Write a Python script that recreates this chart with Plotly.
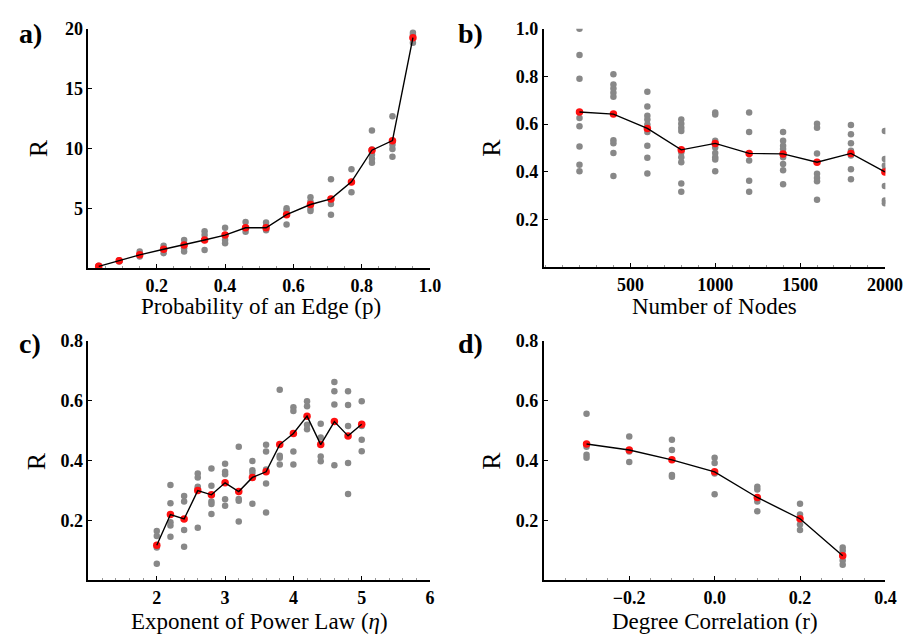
import plotly.graph_objects as go

# ---------------- data ----------------
# a) Erdos-Renyi: probability of an edge
p_vals = [0.03, 0.09, 0.15, 0.22, 0.28, 0.34, 0.40, 0.46, 0.52, 0.58, 0.65, 0.71, 0.77, 0.83, 0.89, 0.95]
a_mean = [0.14, 0.60, 1.10, 1.57, 1.93, 2.34, 2.75, 3.36, 3.36, 4.46, 5.31, 5.78, 7.20, 9.85, 10.65, 19.26]
a_runs = [
    [0.10, 0.14, 0.18],
    [0.55, 0.60, 0.65],
    [1.37, 1.10, 0.96],
    [1.87, 1.57, 1.24],
    [2.34, 1.93, 1.65, 1.37],
    [3.08, 2.75, 2.34, 1.51],
    [3.36, 2.75, 2.34, 2.06],
    [3.85, 3.36, 3.03],
    [3.80, 3.52, 3.16],
    [5.00, 4.81, 4.46, 3.63],
    [5.91, 5.56, 4.95, 4.76],
    [7.43, 5.78, 5.36, 4.46],
    [8.25, 7.20, 6.33],
    [11.50, 9.90, 9.50, 9.13, 8.80],
    [12.70, 10.60, 10.30, 9.96, 9.30],
    [19.67, 19.48, 19.26, 18.84],
]

# b) number of nodes
n_vals = [200, 400, 600, 800, 1000, 1200, 1400, 1600, 1800, 2000]
b_mean = [0.651, 0.642, 0.582, 0.492, 0.519, 0.477, 0.475, 0.440, 0.477, 0.399]
b_runs = [
    [1.000, 0.890, 0.790, 0.626, 0.591, 0.506, 0.429, 0.402],
    [0.809, 0.766, 0.750, 0.732, 0.715, 0.532, 0.520, 0.479, 0.382],
    [0.736, 0.674, 0.635, 0.619, 0.598, 0.567, 0.509, 0.459, 0.393],
    [0.619, 0.602, 0.585, 0.571, 0.481, 0.461, 0.440, 0.351, 0.316],
    [0.649, 0.640, 0.530, 0.502, 0.479, 0.461, 0.451, 0.402],
    [0.649, 0.567, 0.477, 0.447, 0.362, 0.316],
    [0.567, 0.530, 0.509, 0.495, 0.475, 0.461, 0.433, 0.406, 0.348],
    [0.601, 0.585, 0.477, 0.392, 0.374, 0.360, 0.282],
    [0.596, 0.557, 0.520, 0.488, 0.468, 0.410, 0.369],
    [0.571, 0.454, 0.426, 0.406, 0.340, 0.279, 0.268],
]

# c) exponent of power law
eta_vals = [2.0, 2.2, 2.4, 2.6, 2.8, 3.0, 3.2, 3.4, 3.6, 3.8, 4.0, 4.2, 4.4, 4.6, 4.8, 5.0]
c_mean = [0.116, 0.219, 0.204, 0.299, 0.285, 0.325, 0.296, 0.343, 0.362, 0.453, 0.490, 0.548, 0.453, 0.530, 0.482, 0.521]
c_runs = [
    [0.164, 0.147, 0.109, 0.054],
    [0.318, 0.257, 0.193, 0.182, 0.145],
    [0.281, 0.263, 0.167, 0.111],
    [0.356, 0.343, 0.312, 0.307, 0.175],
    [0.373, 0.315, 0.263, 0.254, 0.221],
    [0.389, 0.362, 0.354, 0.270, 0.248],
    [0.446, 0.271, 0.265, 0.196],
    [0.398, 0.367, 0.358, 0.255],
    [0.452, 0.430, 0.370, 0.323, 0.226],
    [0.636, 0.416, 0.409, 0.386],
    [0.578, 0.565, 0.430, 0.386],
    [0.598, 0.581, 0.519, 0.504],
    [0.523, 0.477, 0.413, 0.397],
    [0.662, 0.631, 0.587, 0.384],
    [0.631, 0.585, 0.515, 0.391, 0.288],
    [0.598, 0.515, 0.469, 0.431],
]

# d) degree correlation
r_vals = [-0.3, -0.2, -0.1, 0.0, 0.1, 0.2, 0.3]
d_mean = [0.455, 0.435, 0.402, 0.362, 0.276, 0.205, 0.081]
d_runs = [
    [0.556, 0.446, 0.419, 0.409],
    [0.480, 0.430, 0.395],
    [0.469, 0.435, 0.351, 0.345],
    [0.409, 0.391, 0.356, 0.287],
    [0.312, 0.303, 0.263, 0.230],
    [0.255, 0.219, 0.186, 0.167],
    [0.109, 0.098, 0.081, 0.065, 0.051],
]

x_titles = ["Probability of an Edge (p)", "Number of Nodes",
            "Exponent of Power Law (<i>η</i>)", "Degree Correlation (r)"]
panel_labels = ["a)", "b)", "c)", "d)"]

# ---------------- figure ----------------
W, H = 915, 635
SERIF = "Liberation Serif"
GREY = "#888888"
RED = "#ff1010"

fig = go.Figure()

panels = [
    (p_vals, a_mean, a_runs, "x", "y"),
    (n_vals, b_mean, b_runs, "x2", "y2"),
    (eta_vals, c_mean, c_runs, "x3", "y3"),
    (r_vals, d_mean, d_runs, "x4", "y4"),
]

for xs, means, runs, xa, ya in panels:
    gx, gy = [], []
    for xv, rr in zip(xs, runs):
        for v in rr:
            gx.append(xv)
            gy.append(v)
    fig.add_trace(go.Scatter(x=gx, y=gy, mode="markers", xaxis=xa, yaxis=ya,
                             marker=dict(color=GREY, size=6.5), showlegend=False,
                             hoverinfo="skip"))
    fig.add_trace(go.Scatter(x=xs, y=means, mode="markers", xaxis=xa, yaxis=ya,
                             marker=dict(color=RED, size=7.5), showlegend=False))
    fig.add_trace(go.Scatter(x=xs, y=means, mode="lines", xaxis=xa, yaxis=ya,
                             line=dict(color="black", width=1.4), showlegend=False))

# pixel geometry helpers
def xd(a, b):
    return [a / W, b / W]

def yd(top, bottom):
    return [(H - bottom) / H, (H - top) / H]

tickfont = dict(family=SERIF, size=18, color="black", weight="bold")

def axis_common():
    return dict(showline=True, linecolor="black", linewidth=2, showgrid=False,
                zeroline=False, ticks="inside", ticklen=4, tickwidth=1,
                tickcolor="black", tickfont=tickfont, mirror=False)

def tfmt(vals, fmt):
    return [fmt.format(v) for v in vals]

MINOR = dict(ticks="inside", ticklen=2, tickcolor="#999999", tickwidth=1)

ax_defs = {
    "xaxis": dict(domain=xd(82, 430), range=[0, 1.0], anchor="y",
                  tickvals=[0.2, 0.4, 0.6, 0.8, 1.0],
                  ticktext=tfmt([0.2, 0.4, 0.6, 0.8, 1.0], "{:.1f}"),
                  minor=dict(MINOR, dtick=0.05, tick0=0)),
    "yaxis": dict(domain=yd(11, 254), range=[0, 20], anchor="x",
                  tickvals=[5, 10, 15, 20], ticktext=["5", "10", "15", "20"]),
    "xaxis2": dict(domain=xd(546, 894), range=[-10, 2003], anchor="y2",
                   tickvals=[500, 1000, 1500, 2000], ticktext=["500", "1000", "1500", "2000"],
                   minor=dict(MINOR, dtick=100, tick0=0)),
    "yaxis2": dict(domain=yd(11, 253), range=[0, 1.0], anchor="x2",
                   tickvals=[0.2, 0.4, 0.6, 0.8, 1.0],
                   ticktext=tfmt([0.2, 0.4, 0.6, 0.8, 1.0], "{:.1f}")),
    "xaxis3": dict(domain=xd(82, 430), range=[1, 6], anchor="y3",
                   tickvals=[2, 3, 4, 5, 6], ticktext=["2", "3", "4", "5", "6"],
                   minor=dict(MINOR, dtick=0.2, tick0=0)),
    "yaxis3": dict(domain=yd(328, 571), range=[0, 0.8], anchor="x3",
                   tickvals=[0.2, 0.4, 0.6, 0.8],
                   ticktext=tfmt([0.2, 0.4, 0.6, 0.8], "{:.1f}")),
    "xaxis4": dict(domain=xd(546, 894), range=[-0.4, 0.4], anchor="y4",
                   tickvals=[-0.2, 0.0, 0.2, 0.4],
                   ticktext=["\u22120.2", "0.0", "0.2", "0.4"],
                   minor=dict(MINOR, dtick=0.05, tick0=0)),
    "yaxis4": dict(domain=yd(328, 571), range=[0, 0.8], anchor="x4",
                   tickvals=[0.2, 0.4, 0.6, 0.8],
                   ticktext=tfmt([0.2, 0.4, 0.6, 0.8], "{:.1f}")),
}

layout_axes = {}
for k, v in ax_defs.items():
    d = axis_common()
    d.update(v)
    layout_axes[k] = d

annotations = []
# panel labels
label_pos = [(9, 16), (456, 16), (9, 331), (456, 331)]
for txt, (px, py) in zip(panel_labels, label_pos):
    annotations.append(dict(text="<b>" + txt + "</b>", x=px / W, y=1 - py / H,
                            xref="paper", yref="paper", xanchor="left", yanchor="middle",
                            showarrow=False, font=dict(family=SERIF, size=28, color="black")))
# y titles "R"
ytitle_pos = [(31, 132), (493, 132), (29, 450), (493, 450)]
for (px, py) in ytitle_pos:
    annotations.append(dict(text="R", x=px / W, y=1 - py / H, xref="paper", yref="paper",
                            xanchor="center", yanchor="middle", textangle=-90, showarrow=False,
                            font=dict(family=SERIF, size=26, color="black")))
# x titles
xtitle_pos = [(258, 293), (720, 293), (256, 613), (720, 613)]
for txt, (px, py) in zip(x_titles, xtitle_pos):
    annotations.append(dict(text=txt, x=px / W, y=1 - py / H, xref="paper", yref="paper",
                            xanchor="center", yanchor="middle", showarrow=False,
                            font=dict(family=SERIF, size=23, color="black")))

fig.update_layout(width=W, height=H, margin=dict(l=0, r=0, t=0, b=0),
                  paper_bgcolor="white", plot_bgcolor="white",
                  font=dict(family=SERIF),
                  annotations=annotations, **layout_axes)

fig.write_html("out.html")
